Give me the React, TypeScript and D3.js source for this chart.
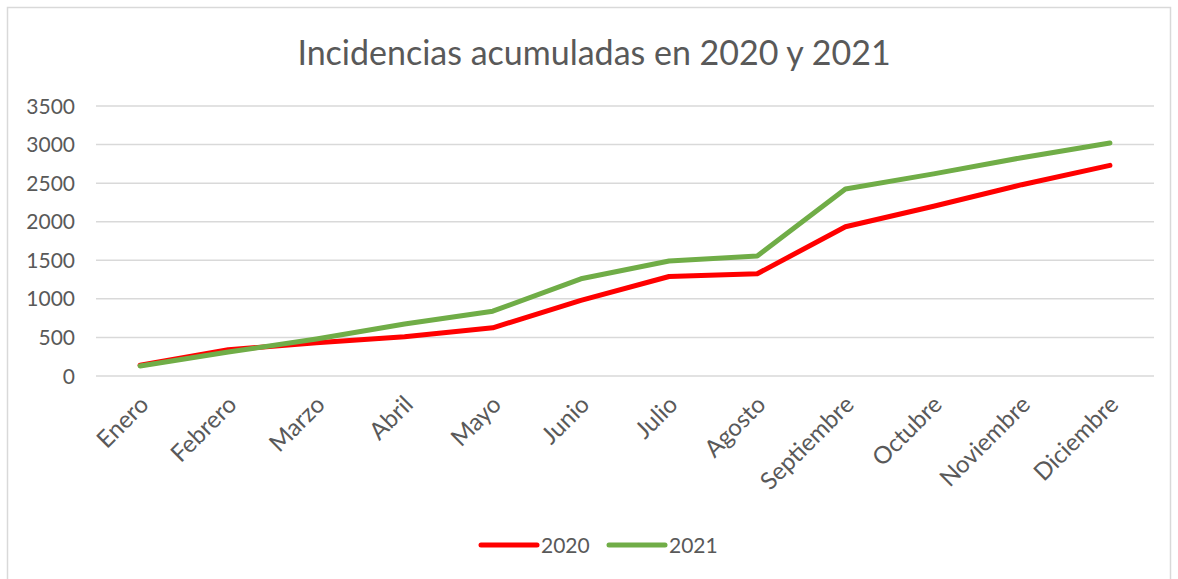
import React from "react";
import * as d3 from "d3";

const months = ["Enero","Febrero","Marzo","Abril","Mayo","Junio","Julio","Agosto","Septiembre","Octubre","Noviembre","Diciembre"];
const series2020 = [140, 340, 430, 510, 625, 980, 1290, 1325, 1935, 2200, 2480, 2730];
const series2021 = [130, 310, 480, 675, 840, 1260, 1490, 1555, 2425, 2620, 2830, 3020];
const yTicks = [0, 500, 1000, 1500, 2000, 2500, 3000, 3500];
const seriesNames = ["2020", "2021"];
const colors = ["#FF0000", "#70AD47"];

export default function App() {
  const W = 1178, H = 579;
  const left = 96, right = 1154, top = 106, bottom = 376;
  const x = d3.scaleBand<string>().domain(months).range([left, right]);
  const y = d3.scaleLinear().domain([0, 3500]).range([bottom, top]);
  const line = d3.line<number>()
    .x((_, i) => (x(months[i]) as number) + x.bandwidth() / 2)
    .y((d) => y(d));
  const font = "Lato, 'Open Sans', sans-serif";
  const gray = "#595959";
  const data = [series2020, series2021];
  return (
    <svg width={W} height={H} style={{ position: "absolute", left: 0, top: 0 }}>
      <rect x={0} y={0} width={W} height={H} fill="#fff" />
      <rect x={7.5} y={7.5} width={1163} height={580} fill="none" stroke="#D9D9D9" strokeWidth={1.5} />
      <text x={594} y={65} textAnchor="middle" fontFamily={font} fontSize={34} fill={gray}>
        Incidencias acumuladas en 2020 y 2021
      </text>
      {yTicks.map((t) => (
        <g key={t}>
          <line x1={left} x2={right} y1={y(t)} y2={y(t)} stroke="#D9D9D9" strokeWidth={1.5} />
          <text x={75} y={y(t)} dy="0.36em" textAnchor="end" fontFamily={font} fontSize={21} fill={gray}>
            {t}
          </text>
        </g>
      ))}
      {months.map((m) => {
        const cx = (x(m) as number) + x.bandwidth() / 2 + 10;
        const cy = 406;
        return (
          <text key={m} x={cx} y={cy} textAnchor="end" fontFamily={font} fontSize={24} fill={gray}
            transform={`rotate(-45 ${cx} ${cy})`}>
            {m}
          </text>
        );
      })}
      {data.map((s, k) => (
        <path key={k} d={line(s) as string} fill="none" stroke={colors[k]} strokeWidth={5}
          strokeLinejoin="round" strokeLinecap="round" />
      ))}
      {seriesNames.map((n, k) => {
        const lx = 481 + k * 128;
        return (
          <g key={n}>
            <line x1={lx} x2={lx + 56} y1={545} y2={545} stroke={colors[k]} strokeWidth={5} strokeLinecap="round" />
            <text x={lx + 60} y={545} dy="0.36em" fontFamily={font} fontSize={21} fill={gray}>{n}</text>
          </g>
        );
      })}
    </svg>
  );
}
